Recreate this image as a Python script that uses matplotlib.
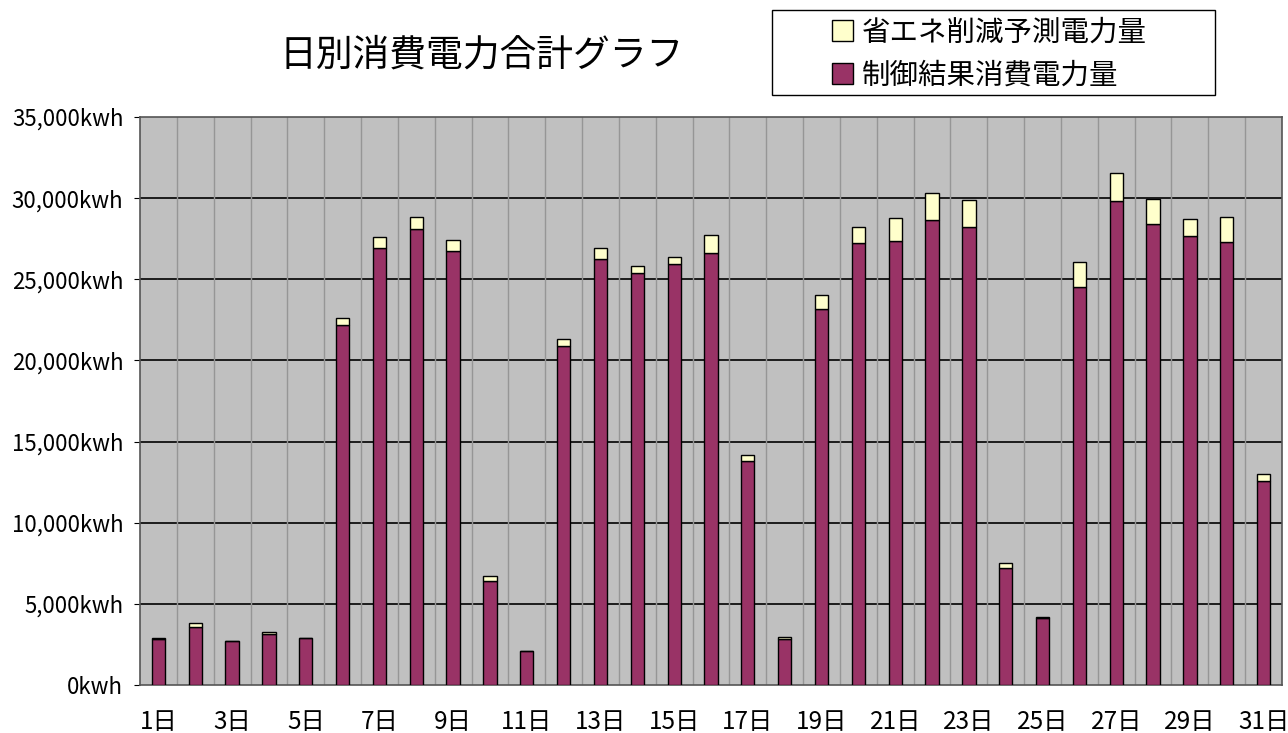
import numpy as np
import matplotlib
matplotlib.use('Agg')
from matplotlib import pyplot as plt
from matplotlib.patches import Rectangle
from matplotlib.ticker import FuncFormatter

plt.rcParams['font.family'] = ['Noto Sans CJK JP', 'DejaVu Sans']

days = [f'{d}日' for d in range(1, 32)]
# 制御結果消費電力量 (kwh)
result_kwh = [2850, 3590, 2690, 3140, 2880, 22180, 26950, 28100, 26740, 6410,
              2090, 20890, 26270, 25370, 25960, 26630, 13800, 2820, 23150, 27210,
              27350, 28650, 28220, 7180, 4150, 24520, 29820, 28400, 27660, 27290,
              12590]
# 合計 (制御結果 + 省エネ削減予測)
total_kwh = [2900, 3800, 2720, 3270, 2900, 22590, 27580, 28810, 27420, 6720,
             2110, 21340, 26900, 25840, 26390, 27720, 14150, 2940, 24030, 28240,
             28750, 30330, 29880, 7520, 4180, 26080, 31530, 29940, 28730, 28850,
             13000]
saving_kwh = [t - r for t, r in zip(total_kwh, result_kwh)]

fig = plt.figure(figsize=(12.88, 7.33), dpi=100)
ax = fig.add_axes([140/1288, 48/733, 1142/1288, 568/733])
ax.set_facecolor('#C0C0C0')

x = np.arange(len(days))
w = 0.36
ax.bar(x, result_kwh, w, color='#993366', edgecolor='black', linewidth=1.0,
       label='制御結果消費電力量', zorder=3)
ax.bar(x, saving_kwh, w, bottom=result_kwh, color='#FFFFCC', edgecolor='black',
       linewidth=1.0, label='省エネ削減予測電力量', zorder=3)

ax.set_xlim(-0.5, len(days) - 0.5)
ax.set_ylim(0, 35000)
ax.set_yticks(np.arange(0, 35001, 5000))
ax.yaxis.set_major_formatter(FuncFormatter(lambda v, p: f'{int(v):,}kwh'))
for yv in np.arange(5000, 35000, 5000):
    ax.axhline(yv, color='black', linewidth=1.2, zorder=1)
for xv in np.arange(0.5, len(days) - 0.5, 1):
    ax.axvline(xv, color='#969696', linewidth=1.0, zorder=1)

ax.set_xticks(x[::2])
ax.set_xticklabels(days[::2])
ax.tick_params(axis='x', length=0, labelsize=17.5, pad=17)
ax.tick_params(axis='y', length=4, labelsize=16, direction='out', pad=8)
for s in ax.spines.values():
    s.set_color('#555555')
    s.set_linewidth(1.2)

fig.text(482/1288, 1 - 55/733, '日別消費電力合計グラフ', fontsize=26.5,
         ha='center', va='center')

# legend box
fig.patches.append(Rectangle((772/1288, 1 - 95/733), 443/1288, 85/733,
                             transform=fig.transFigure, facecolor='white',
                             edgecolor='black', linewidth=1.0))
h, l = ax.get_legend_handles_labels()
leg = fig.legend(h[::-1], l[::-1], loc='center left',
                 bbox_to_anchor=(832/1288, 1 - 54/733), fontsize=20.5,
                 frameon=False, handlelength=0.75, handleheight=0.75,
                 handletextpad=0.3, labelspacing=0.45, borderpad=0,
                 borderaxespad=0)

fig.savefig('out.png', dpi=100)
